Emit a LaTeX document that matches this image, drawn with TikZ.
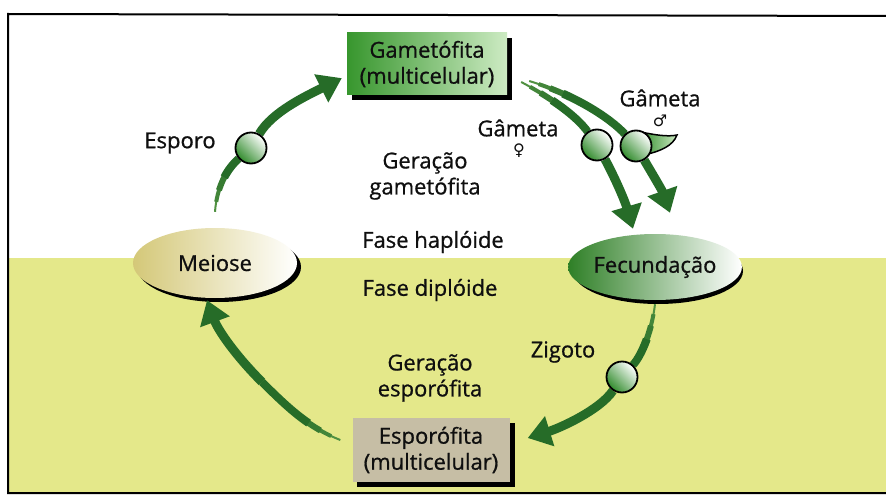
\documentclass[tikz,border=0pt]{standalone}
\usepackage{fontspec}
\setmainfont{Open Sans}[FakeBold=0.8]
\newfontfamily\symf{DejaVu Sans}
\usetikzlibrary{shapes.geometric,arrows.meta}
\pgfdeclarelayer{back}\pgfdeclarelayer{mid}
\pgfsetlayers{back,mid,main}
\definecolor{yel}{RGB}{228,232,138}
\definecolor{agreen}{RGB}{38,108,40}
\definecolor{tgreen}{RGB}{80,145,65}
\definecolor{boxgreen}{RGB}{55,150,45}
\definecolor{lightg}{RGB}{205,235,195}
\definecolor{beige}{RGB}{198,190,165}
\definecolor{tanc}{RGB}{212,200,120}
\definecolor{txt}{RGB}{15,15,15}
\definecolor{cellg}{RGB}{50,140,45}
\newcommand\tailseg[1]{\draw[tailA] #1; \draw[tailB] #1; \draw[tailC] #1; \draw[tailD] #1;}
\newcommand\headseg[1]{\draw[headS] #1;}
\begin{document}
\begin{tikzpicture}[x=1pt,y=-1pt,
  lbl/.style={font=\fontsize{22}{26}\selectfont, text=txt, align=center, inner sep=0pt},
  boxnode/.style={lbl, rectangle, minimum width=160pt, minimum height=62pt},
  ell/.style={lbl, ellipse, inner sep=0pt},
  cell/.style={circle, minimum size=31pt, inner sep=0pt, draw=black, line width=1.8pt,
    left color=cellg, right color=white, shading angle=135},
  tailA/.style={draw=tgreen, line width=2pt},
  tailB/.style={draw=tgreen!70!agreen, line width=4pt, dash pattern=on 0pt off 10pt on 2000pt},
  tailC/.style={draw=tgreen!40!agreen, line width=6pt, dash pattern=on 0pt off 22pt on 2000pt},
  tailD/.style={draw=agreen, line width=8pt, dash pattern=on 0pt off 36pt on 2000pt},
  headS/.style={draw=agreen, line width=9pt, -{Triangle[width=30pt,length=23pt]}}]
\useasboundingbox (0,0) rectangle (886,500);
% nodes
\node[boxnode, left color=boxgreen, right color=lightg] (gam) at (427,64) {Gametófita\\(multicelular)};
\node[boxnode, fill=beige, minimum width=157pt, minimum height=64pt] (esp) at (431,450) {Esporófita\\(multicelular)};
\node[ell, minimum width=164pt, minimum height=70pt, left color=tanc, right color=white] (meiose) at (215,263) {Meiose};
\node[ell, minimum width=170pt, minimum height=66pt, left color=boxgreen!85!black, right color=white] (fec) at (655,267) {Fecundação};
\node[cell] (spore) at (251,148) {};
\node[cell] (fem) at (597,145) {};
\filldraw[left color=cellg, right color=lightg, draw=black, line width=1.5pt]
  (641,132) .. controls (655,135) and (668,137) .. (677,135)
  .. controls (673,146) and (660,151) .. (648,154) -- cycle;
\node[cell] (male) at (636,146) {};
\node[cell] (zig) at (622,377) {};
\coordinate (m4) at (262,382);
% labels
\node[lbl] (tesporo) at (180,143) {Esporo};
\node[lbl] (tgf) at (518,128) {Gâmeta};
\node[lbl, font=\symf\fontsize{16}{18}\selectfont] (sfem) at (519,151) {♀};
\node[lbl] (tgm) at (660,98) {Gâmeta};
\node[lbl, font=\symf\fontsize{16}{18}\selectfont] (smale) at (660,121) {♂};
\node[lbl] (tgg) at (425,176) {Geração\\gametófita};
\node[lbl] (thap) at (433,242) {Fase haplóide};
\node[lbl] (tdip) at (430,290) {Fase diplóide};
\node[lbl] (tge) at (430,378) {Geração\\esporófita};
\node[lbl] (tzig) at (563,352) {Zigoto};
% background, frame and shadows
\begin{pgfonlayer}{back}
  \fill[white] (0,0) rectangle (886,500);
  \fill[yel] (8,258) rectangle (886,493);
  \draw[line width=2pt] (886,16) -- (8,14) -- (8,493) -- (886,493);
  \fill[black] ([shift={(5,5)}]gam.north west) rectangle ([shift={(5,5)}]gam.south east);
  \fill[black] ([shift={(5,5)}]esp.north west) rectangle ([shift={(5,5)}]esp.south east);
  \fill[black] ([shift={(4,4)}]meiose.center) ellipse [x radius=82pt, y radius=35pt];
  \fill[black] ([shift={(3,4)}]fec.center) ellipse [x radius=85pt, y radius=33pt];
\end{pgfonlayer}
% arrows
\begin{pgfonlayer}{mid}
  \tailseg{([yshift=16pt]meiose.north) .. controls (217,185) and (228,168) .. (spore)}
  \headseg{(spore) .. controls (272,112) and (306,96) .. ([xshift=-5pt]gam.190)}
  \tailseg{([xshift=14pt,yshift=-18pt]gam.east) .. controls (555,100) and (578,118) .. (fem)}
  \headseg{(fem) .. controls (612,172) and (624,198) .. ([xshift=-22pt,yshift=5pt]fec.north)}
  \tailseg{([xshift=22pt,yshift=-17pt]gam.east) .. controls (575,95) and (610,118) .. (male)}
  \headseg{(male) .. controls (650,170) and (662,190) .. ([xshift=15pt,yshift=21pt]fec.north)}
  \tailseg{([yshift=-4pt]fec.south) .. controls (652,330) and (642,355) .. (zig)}
  \headseg{(zig) .. controls (600,410) and (560,428) .. ([xshift=18pt,yshift=12pt]esp.east)}
  \tailseg{([xshift=-12pt,yshift=10pt]esp.west) .. controls (310,428) and (290,410) .. (m4)}
  \headseg{(m4) .. controls (235,355) and (218,330) .. ([xshift=-8pt,yshift=-2pt]meiose.south)}
\end{pgfonlayer}
\end{tikzpicture}
\end{document}
